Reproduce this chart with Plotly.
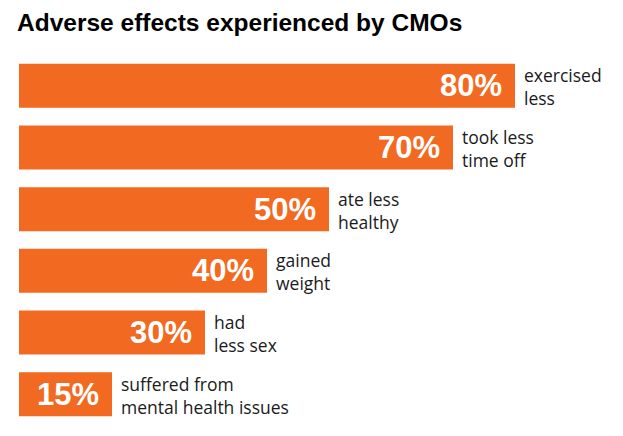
import plotly.graph_objects as go

categories = ["exercised<br>less", "took less<br>time off", "ate less<br>healthy",
              "gained<br>weight", "had<br>less sex", "suffered from<br>mental health issues"]
values = [80, 70, 50, 40, 30, 15]
value_labels = ["80%", "70%", "50%", "40%", "30%", "15%"]

BAR = "#F26A22"
# the page body adds an 8px offset; size the figure to fill the 623x436 window
OFF = 8
W, H = 623 - OFF, 436 - OFF
left = 19 - OFF
px_per_100 = 620.0
plot_w = W - left
xmax = plot_w / px_per_100 * 100

ids = list(range(len(categories)))

fig = go.Figure(go.Bar(
    x=values, y=ids, orientation="h",
    marker=dict(color=BAR, line=dict(width=0)),
    hoverinfo="skip",
))

annotations = []
for i, (v, lab, cat) in enumerate(zip(values, value_labels, categories)):
    annotations.append(dict(
        x=v, y=i, xref="x", yref="y", text=lab, showarrow=False,
        xanchor="right", yanchor="middle", xshift=-11, yshift=0,
        font=dict(family="Liberation Sans", size=31, color="white", weight="bold"),
    ))
    annotations.append(dict(
        x=v, y=i, xref="x", yref="y", text=cat, showarrow=False,
        xanchor="left", yanchor="middle", align="left", xshift=7, yshift=-1,
        font=dict(family="Open Sans", size=17.5, color="#1a1a1a"),
    ))

fig.update_layout(
    width=W, height=H,
    margin=dict(l=left, r=0, t=55 - OFF, b=11, pad=0),
    paper_bgcolor="white", plot_bgcolor="white",
    showlegend=False,
    bargap=0.286,
    title=dict(
        text="Adverse effects experienced by CMOs",
        xref="container", yref="container",
        x=(17 - OFF) / W, xanchor="left",
        y=1 - 6 / H, yanchor="top",
        pad=dict(t=0, b=0, l=0, r=0),
        font=dict(family="Liberation Sans", size=24.5, color="#000000", weight="bold"),
    ),
    xaxis=dict(range=[0, xmax], visible=False, fixedrange=True),
    yaxis=dict(range=[len(categories) - 0.5, -0.5], visible=False, fixedrange=True),
    annotations=annotations,
)

fig.write_html("out.html")
